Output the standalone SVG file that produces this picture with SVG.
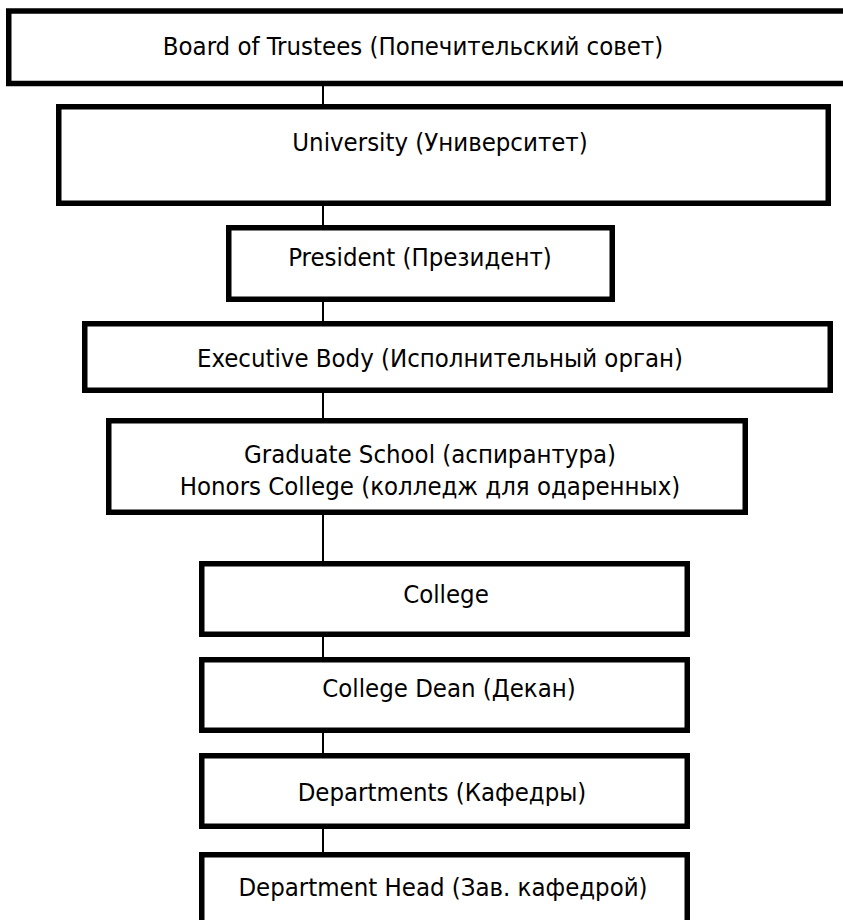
<svg xmlns="http://www.w3.org/2000/svg" width="843" height="920" viewBox="0 0 843 920">
<style>
.box{fill:#fff;stroke:#000;stroke-width:5.5}
.lbl{font-family:"DejaVu Sans Condensed","DejaVu Sans",sans-serif;font-size:25.5px;fill:#000;text-anchor:middle}
.conn{stroke:#000;stroke-width:2;fill:none}
</style>
<rect width="843" height="920" fill="#fff"/>
<g id="connectors">
<line class="conn" x1="323" y1="86" x2="323" y2="104"/>
<line class="conn" x1="323" y1="206" x2="323" y2="225"/>
<line class="conn" x1="323" y1="302" x2="323" y2="321"/>
<line class="conn" x1="323" y1="393" x2="323" y2="418"/>
<line class="conn" x1="323" y1="515" x2="323" y2="562"/>
<line class="conn" x1="323" y1="636" x2="323" y2="658"/>
<line class="conn" x1="323" y1="732" x2="323" y2="754"/>
<line class="conn" x1="323" y1="828" x2="323" y2="852"/>
</g>
<g id="board">
<rect class="box" x="8.75" y="11" width="850" height="72.5"/>
<text class="lbl" x="413" y="55">Board of Trustees (Попечительский совет)</text>
</g>
<g id="university">
<rect class="box" x="58.75" y="106.75" width="769.5" height="96.5"/>
<text class="lbl" x="440" y="151">University (Университет)</text>
</g>
<g id="president">
<rect class="box" x="228.75" y="227.75" width="383.5" height="71.5"/>
<text class="lbl" x="420" y="266">President (Президент)</text>
</g>
<g id="executive">
<rect class="box" x="84.75" y="323.75" width="745.5" height="66.5"/>
<text class="lbl" x="440" y="367">Executive Body (Исполнительный орган)</text>
</g>
<g id="graduate">
<rect class="box" x="108.75" y="420.75" width="636.5" height="91.5"/>
<text class="lbl" x="430" y="463">Graduate School (аспирантура)</text>
<text class="lbl" x="430" y="495">Honors College (колледж для одаренных)</text>
</g>
<g id="college">
<rect class="box" x="201.75" y="563.75" width="485.5" height="70.5"/>
<text class="lbl" x="446" y="603">College</text>
</g>
<g id="dean">
<rect class="box" x="201.75" y="659.75" width="485.5" height="70.5"/>
<text class="lbl" x="449" y="697">College Dean (Декан)</text>
</g>
<g id="departments">
<rect class="box" x="201.75" y="755.75" width="485.5" height="70.5"/>
<text class="lbl" x="442" y="801">Departments (Кафедры)</text>
</g>
<g id="head">
<rect class="box" x="201.75" y="854.75" width="485.5" height="100"/>
<text class="lbl" x="443" y="896">Department Head (Зав. кафедрой)</text>
</g>
</svg>
